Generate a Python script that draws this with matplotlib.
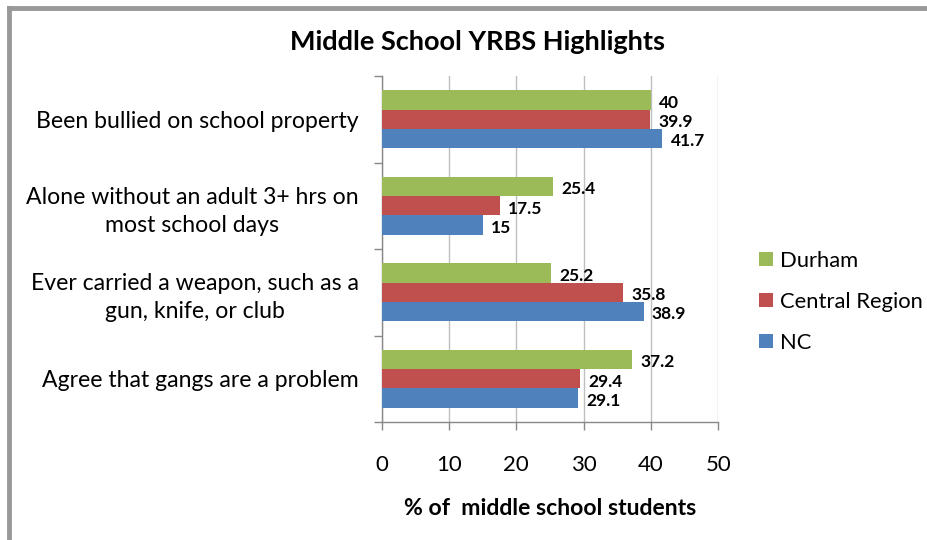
import matplotlib
matplotlib.use("Agg")
import matplotlib.pyplot as plt
from matplotlib.patches import Patch
from matplotlib.lines import Line2D
import numpy as np

plt.rcParams['font.family'] = ['Lato', 'DejaVu Sans']

categories = ["Been bullied on school property",
              "Alone without an adult 3+ hrs on\nmost school days",
              "Ever carried a weapon, such as a\ngun, knife, or club",
              "Agree that gangs are a problem"]
series_names = ["Durham", "Central Region", "NC"]
durham = [40, 25.4, 25.2, 37.2]
central = [39.9, 17.5, 35.8, 29.4]
nc = [41.7, 15, 38.9, 29.1]
value_labels = [["40", "25.4", "25.2", "37.2"],
                ["39.9", "17.5", "35.8", "29.4"],
                ["41.7", "15", "38.9", "29.1"]]
colors = ["#9bbb59", "#c0504d", "#4f81bd"]
xticks = [0, 10, 20, 30, 40, 50]

W, H = 927, 540
fig = plt.figure(figsize=(W / 100, H / 100), dpi=100)
ax = fig.add_axes([381.7 / W, 1 - 422 / H, (718.3 - 381.7) / W, (422 - 76) / H])

y = np.arange(len(categories))
bh = 0.222
offsets = [-bh, 0, bh]
for vals, labs, col, off, name in zip([durham, central, nc], value_labels, colors, offsets, series_names):
    ax.barh(y + off, vals, height=bh, color=col, label=name, zorder=3)
    for yi, v, lab in zip(y + off, vals, labs):
        ax.annotate(lab, (v, yi), xytext=(6, -2), textcoords='offset points',
                    ha='left', va='center', fontsize=12.5, fontweight='bold', color='black')

ax.set_xlim(0, 50)
ax.set_ylim(len(categories) - 0.5, -0.5)
ax.set_xticks(xticks)
ax.set_xticklabels([str(t) for t in xticks], fontsize=16)
ax.set_yticks(y)
ax.set_yticklabels(categories, fontsize=16.6, ha='right', multialignment='center', linespacing=1.4)
ax.set_yticks(np.arange(-0.5, len(categories)), minor=True)
ax.tick_params(axis='y', which='major', length=0, pad=16.5)
ax.tick_params(axis='y', which='minor', length=6, color='#888888', width=1, direction='out')
ax.tick_params(axis='x', which='major', length=6, color='#888888', width=1, pad=18)
ax.grid(axis='x', color='#bfbfbf', linewidth=1, zorder=0)
for s in ['top', 'right']:
    ax.spines[s].set_visible(False)
for s in ['left', 'bottom']:
    ax.spines[s].set_color('#888888')
    ax.spines[s].set_linewidth(1)
ax.set_xlabel("% of  middle school students", fontsize=16.6, fontweight='bold', labelpad=16)

fig.text(0.5 * (290 + 665) / W, 1 - 42 / H, "Middle School YRBS Highlights",
         ha='center', va='center', fontsize=19.5, fontweight='bold')

handles = [Patch(facecolor=c, edgecolor='none') for c in colors]
fig.legend(handles, series_names, loc='center left', bbox_to_anchor=(744 / W, 1 - 302 / H),
           frameon=False, fontsize=15.8, handlelength=0.6, handleheight=0.6,
           handletextpad=0.35, labelspacing=0.95, borderpad=0.2)

# frame lines (top and left)
fig.add_artist(Line2D([9 / W, 1], [1 - 8 / H, 1 - 8 / H], color='#999999', linewidth=3.5,
                      transform=fig.transFigure))
fig.add_artist(Line2D([9 / W, 9 / W], [0, 1 - 8 / H], color='#999999', linewidth=3.5,
                      transform=fig.transFigure))

fig.savefig("out.png", dpi=100)
